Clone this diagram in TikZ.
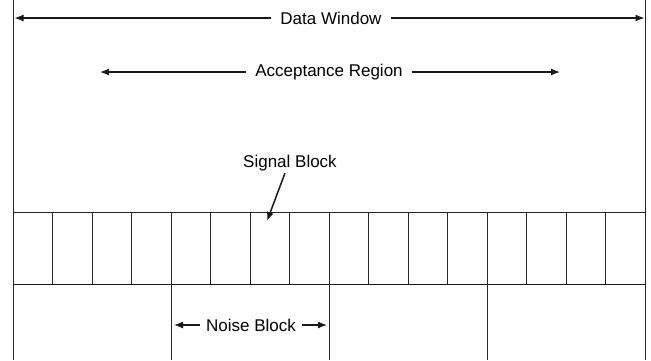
\documentclass[tikz,border=0pt]{standalone}
\usepackage{fontspec}
\setmainfont{Liberation Sans}
\usetikzlibrary{arrows.meta}
\begin{document}
\begin{tikzpicture}[x=1pt,y=-1pt,
  font=\fontsize{17}{20}\selectfont,
  thinline/.style={line width=1.1pt,black!85},
  thickline/.style={line width=1.9pt,black!90},
  arr/.style={line width=1.2pt,black!90,-{Latex[length=9pt,width=7pt]}},
  lbl/.style={inner xsep=9pt,inner ysep=2pt},
  cell/.style={draw=black!85,line width=1.1pt,minimum height=72pt,inner sep=0pt,outer sep=0pt,anchor=north west}]
\useasboundingbox (0,0) rectangle (651,360);
% borders
\coordinate (TL) at (13.5,0);
\coordinate (BL) at (13.5,360);
\coordinate (TR) at (645.5,0);
\coordinate (BR) at (645.5,360);
\draw[thinline] (TL) -- (BL);
\draw[thinline] (TR) -- (BR);
% Data Window
\node[lbl] (dw) at (331,18) {Data Window};
\coordinate (dwL) at (14.5,18);
\coordinate (dwR) at (644.5,18);
\draw[arr] (dw.west) -- (dwL);
\draw[arr] (dw.east) -- (dwR);
% Acceptance Region
\node[lbl] (ar) at (329,72) {Acceptance Region};
\coordinate (arL) at (100,72);
\coordinate (arR) at (560,72);
\draw[arr] (ar.west) -- (arL);
\draw[arr] (ar.east) -- (arR);
% cells
\foreach \i/\a/\b in {1/13/52,2/52/92,3/92/131,4/131/171,5/171/210,6/210/250,7/250/289,8/289/329,9/329/368,10/368/408,11/408/447,12/447/487,13/487/526,14/526/566,15/566/605,16/605/645} {
  \node[cell,minimum width={(\b-\a)*1pt}] (c\i) at (\a+0.5,212.5) {};
}
\draw[thickline] (c1.south west) -- (c16.south east);
% lower blocks
\foreach \i/\c in {4/a,8/b,12/c} {
  \coordinate (lo\c) at (c\i.south east);
  \coordinate (lb\c) at (lo\c |- BL);
  \draw[thinline] (lo\c) -- (lb\c);
}
% Signal block
\node[inner sep=2pt] (sb) at (290,163) {Signal Block};
\coordinate (sbT) at (267,221);
\draw[arr,line width=1.5pt] ([xshift=-5pt]sb.south) -- (sbT);
% Noise block
\node[inner xsep=6pt,inner ysep=2pt] (nb) at (251,325) {Noise Block};
\coordinate (nbL) at (174,325);
\coordinate (nbR) at (327,325);
\draw[arr] (nb.west) -- (nbL);
\draw[arr] (nb.east) -- (nbR);
\end{tikzpicture}
\end{document}
